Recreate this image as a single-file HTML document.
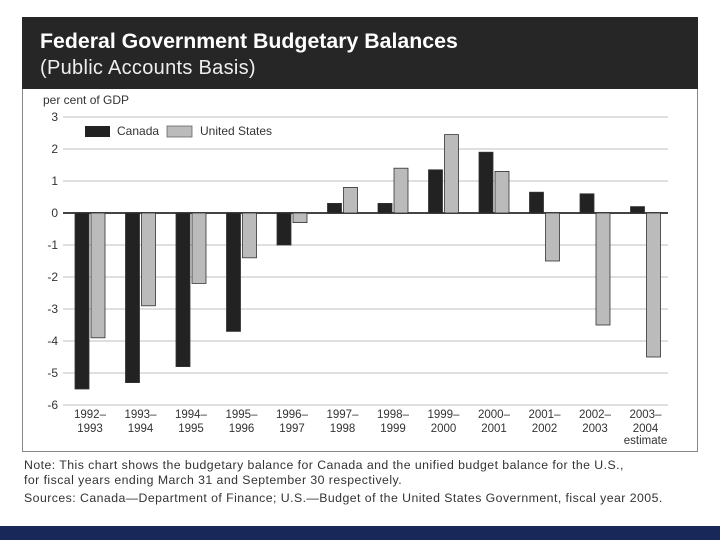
<!DOCTYPE html>
<html><head><meta charset="utf-8"><style>
body{margin:0;width:720px;height:540px;background:#fff;position:relative;overflow:hidden;font-family:"Liberation Sans",sans-serif;}
.hdr{position:absolute;left:22px;top:17px;width:676px;height:72px;background:#262626;color:#fff;}
.t1{position:absolute;left:18px;top:12px;font-size:21.3px;font-weight:bold;}
.t2{position:absolute;left:18px;top:40px;font-size:20px;color:#eee;letter-spacing:0.3px;}
.box{position:absolute;left:22px;top:89px;width:674px;height:362px;border:1px solid #888;border-top:none;}
.note{position:absolute;left:24px;font-size:12.3px;color:#333;white-space:nowrap;letter-spacing:0.45px;}
.nav{position:absolute;left:0;top:526px;width:720px;height:14px;background:#182858;}
</style></head><body>
<div class="hdr">
<div class="t1">Federal Government Budgetary Balances</div>
<div class="t2">(Public Accounts Basis)</div>
</div>
<div class="box"></div>
<svg id="chart" width="720" height="540" style="position:absolute;left:0;top:0"></svg>
<div class="note" style="top:458px">Note: This chart shows the budgetary balance for Canada and the unified budget balance for the U.S.,</div>
<div class="note" style="top:473px">for fiscal years ending March 31 and September 30 respectively.</div>
<div class="note" style="top:491px">Sources: Canada—Department of Finance; U.S.—Budget of the United States Government, fiscal year 2005.</div>
<div class="nav"></div>
<script>
const categoriesTop=["1992–","1993–","1994–","1995–","1996–","1997–","1998–","1999–","2000–","2001–","2002–","2003–"];
const categoriesBottom=["1993","1994","1995","1996","1997","1998","1999","2000","2001","2002","2003","2004"];
const canada=[-5.5,-5.3,-4.8,-3.7,-1.0,0.3,0.3,1.35,1.9,0.65,0.6,0.2];
const us=[-3.9,-2.9,-2.2,-1.4,-0.3,0.8,1.4,2.45,1.3,-1.5,-3.5,-4.5];
const yTicks=[3,2,1,0,-1,-2,-3,-4,-5,-6];
const NS="http://www.w3.org/2000/svg";
const svg=document.getElementById('chart');
function y(v){return 213-v*32;}
function x(i){return 75+i*50.5;}
function mk(t,a){const e=document.createElementNS(NS,t);for(const k in a)e.setAttribute(k,a[k]);svg.appendChild(e);return e;}
const yl=mk('text',{x:43,y:104,'font-size':12,fill:'#333'});yl.textContent='per cent of GDP';


yTicks.forEach(v=>{
 const g=mk('line',{x1:63,x2:668,y1:y(v),y2:y(v),stroke:v===0?'#444':'#ccc','stroke-width':v===0?2:1.3});
 
 
 const t=mk('text',{x:58,y:y(v)+4,'font-size':12,fill:'#333','text-anchor':'end'});t.textContent=v;
 
 
});
function bar(i,v,dx,fill,name){
 const top=Math.min(y(v),y(0)),h=Math.abs(y(v)-y(0));
 const r=mk('rect',{x:x(i)+dx,y:top,width:14,height:h,fill:fill,stroke:'#333','stroke-width':0.8});
 
 
}
canada.forEach((v,i)=>bar(i,v,0,'#222','bar-canada'));
us.forEach((v,i)=>bar(i,v,16,'#bbb','bar-us'));
categoriesTop.forEach((c,i)=>{
 const cx=x(i)+15;
 const a=mk('text',{x:cx,y:418,'font-size':11.5,fill:'#333','text-anchor':'middle'});a.textContent=c;
 
 
 const b=mk('text',{x:cx,y:432,'font-size':11.5,fill:'#333','text-anchor':'middle'});b.textContent=categoriesBottom[i];
 
 
});
const est=mk('text',{x:x(11)+15,y:444,'font-size':11.5,fill:'#333','text-anchor':'middle'});est.textContent='estimate';


const l1=mk('rect',{x:85,y:126,width:25,height:11,fill:'#222'});


const lt1=mk('text',{x:117,y:135,'font-size':12,fill:'#333'});lt1.textContent='Canada';


const l2=mk('rect',{x:167,y:126,width:25,height:11,fill:'#bbb',stroke:'#666','stroke-width':0.8});


const lt2=mk('text',{x:200,y:135,'font-size':12,fill:'#333'});lt2.textContent='United States';


</script>
</body></html>
